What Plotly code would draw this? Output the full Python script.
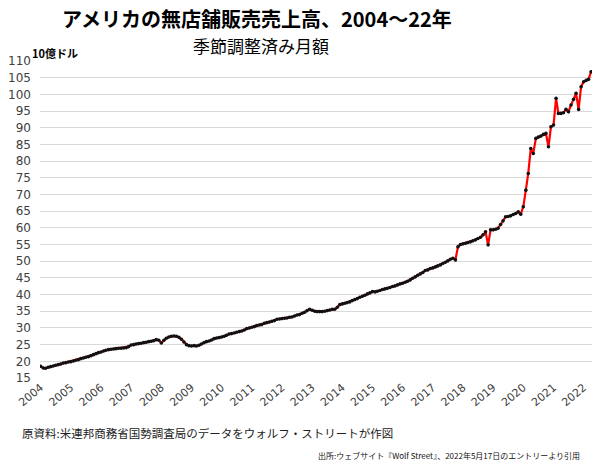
import pandas as pd
import plotly.graph_objects as go

# Monthly sales of US nonstore retailers, seasonally adjusted (billion USD)
start_month = "2004-01-01"
values = [
    # 2004
    18.5, 18.0, 17.9, 18.2, 18.4, 18.6, 18.8, 19.0, 19.2, 19.5, 19.6, 19.8,
    # 2005
    19.9, 20.1, 20.3, 20.5, 20.8, 21.0, 21.2, 21.4, 21.7, 22.0, 22.3, 22.6,
    # 2006
    22.8, 23.1, 23.3, 23.5, 23.6, 23.7, 23.8, 23.9, 23.9, 24.0, 24.1, 24.4,
    # 2007
    24.9, 25.0, 25.2, 25.3, 25.4, 25.6, 25.7, 25.9, 26.0, 26.2, 26.5, 26.3,
    # 2008
    25.5, 26.3, 26.9, 27.3, 27.5, 27.6, 27.5, 27.2, 26.6, 25.8, 25.0, 24.7,
    # 2009
    24.6, 24.7, 24.6, 24.8, 25.2, 25.6, 25.9, 26.1, 26.4, 26.8, 27.0, 27.1,
    # 2010
    27.3, 27.5, 27.8, 28.2, 28.3, 28.5, 28.7, 28.9, 29.1, 29.4, 29.8, 30.0,
    # 2011
    30.2, 30.4, 30.7, 30.9, 31.0, 31.4, 31.6, 31.8, 32.0, 32.2, 32.6, 32.7,
    # 2012
    32.8, 32.9, 33.0, 33.2, 33.3, 33.6, 33.9, 34.0, 34.4, 34.7, 35.2, 35.6,
    # 2013
    35.3, 35.0, 34.9, 34.9, 34.9, 35.0, 35.2, 35.4, 35.6, 35.6, 36.2, 37.0,
    # 2014
    37.2, 37.4, 37.6, 37.8, 38.2, 38.5, 38.8, 39.2, 39.5, 39.8, 40.2, 40.5,
    # 2015
    40.9, 40.8, 41.0, 41.2, 41.5, 41.7, 41.9, 42.1, 42.4, 42.6, 42.9, 43.2,
    # 2016
    43.4, 43.7, 44.0, 44.4, 44.9, 45.3, 45.8, 46.2, 46.6, 47.2, 47.4, 47.8,
    # 2017
    48.0, 48.3, 48.6, 48.9, 49.3, 49.7, 50.1, 50.6, 50.9, 50.4, 54.3, 55.0,
    # 2018
    55.2, 55.4, 55.6, 55.8, 56.1, 56.4, 56.8, 57.2, 57.9, 58.8, 54.9, 59.4,
    # 2019
    59.4, 59.6, 59.9, 61.0, 62.1, 63.3, 63.4, 63.6, 64.0, 64.3, 64.8, 64.1,
    # 2020
    66.3, 71.3, 76.3, 83.8, 82.3, 86.8, 87.2, 87.5, 88.0, 88.3, 84.3, 90.3,
    # 2021
    90.8, 98.8, 94.3, 94.3, 94.5, 95.5, 94.8, 96.8, 98.5, 100.3, 95.5, 102.3,
    # 2022
    103.8, 104.2, 104.5, 106.8,
]
dates = pd.date_range(start_month, periods=len(values), freq="MS")

years = list(range(2004, 2023))
year_ticks = [f"{y}-01-01" for y in years]
year_labels = [str(y) for y in years]
y_ticks = list(range(15, 111, 5))

title = "アメリカの無店舗販売売上高、2004～22年"
subtitle = "季節調整済み月額"
unit = "10億ドル"
source1 = "原資料:米連邦商務省国勢調査局のデータをウォルフ・ストリートが作図"
source2 = "出所:ウェブサイト『Wolf Street』、2022年5月17日のエントリーより引用"

JP = "Noto Sans CJK JP"

fig = go.Figure()
fig.add_trace(go.Scatter(
    x=dates, y=values, mode="lines+markers",
    line=dict(color="#ff0000", width=2.2),
    marker=dict(color="#111111", size=3.6),
    hoverinfo="x+y",
))

fig.update_layout(
    width=600, height=460,
    margin=dict(l=38, r=8, t=61, b=82),
    paper_bgcolor="white", plot_bgcolor="white",
    showlegend=False,
    font=dict(family="DejaVu Sans", color="#404040"),
    xaxis=dict(
        range=["2003-12-24", "2022-04-12"],
        tickvals=year_ticks, ticktext=year_labels,
        tickangle=-40, tickfont=dict(size=11, color="#404040"),
        showgrid=False, zeroline=False, showline=False,
        ticks="",
    ),
    yaxis=dict(
        range=[15, 110], tickvals=y_ticks,
        tickfont=dict(size=12, color="#404040"),
        showgrid=True, gridcolor="#d9d9d9", gridwidth=1,
        zeroline=False, showline=False, ticks="",
        ticklabelstandoff=8,
    ),
    annotations=[
        dict(text=title, x=256, y=19, showarrow=False,
             font=dict(family=JP, size=20, color="#000000", weight=700)),
        dict(text=subtitle, x=260, y=45, showarrow=False,
             font=dict(family=JP, size=17, color="#000000")),
        dict(text="<b>" + unit + "</b>", x=28, y=53, showarrow=False, xanchor="left",
             font=dict(family=JP, size=11, color="#000000")),
        dict(text=source1, x=18, y=433, showarrow=False, xanchor="left",
             font=dict(family=JP, size=11.5, color="#222222")),
        dict(text=source2, x=582, y=455, showarrow=False, xanchor="right",
             font=dict(family=JP, size=8, color="#111111")),
    ],
)

# convert pixel-positioned annotations to paper coordinates
W, H = 600, 460
l, r, t, b = 38, 8, 61, 82
pw, ph = W - l - r, H - t - b
new_ann = []
for a in fig.layout.annotations:
    a.xref = "paper"
    a.yref = "paper"
    a.x = (a.x - l) / pw
    a.y = (H - b - a.y) / ph
    a.yanchor = "middle"
    new_ann.append(a)
fig.layout.annotations = new_ann

fig.write_html("out.html")
